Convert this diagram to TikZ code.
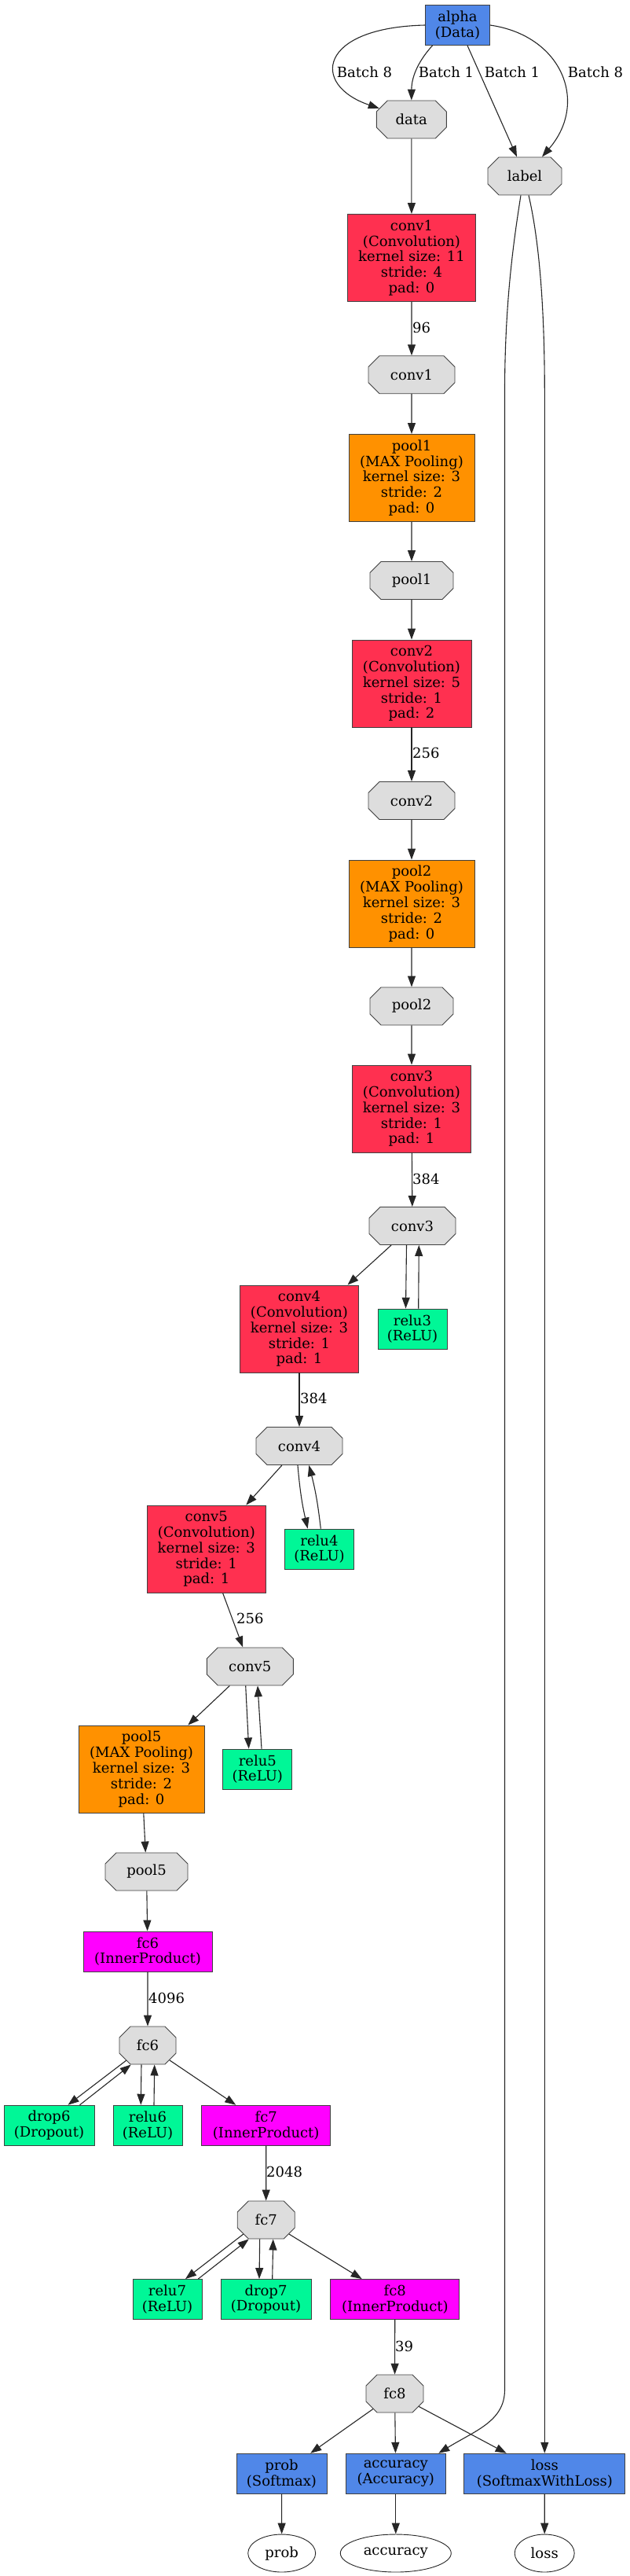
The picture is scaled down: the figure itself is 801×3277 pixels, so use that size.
\documentclass[tikz,border=0pt]{standalone}
\usepackage{fontspec}
\setmainfont{DejaVu Serif}
\usepackage{tikz}
\usetikzlibrary{shapes.geometric,shapes.misc,arrows.meta}
\definecolor{convred}{HTML}{FF3050}
\definecolor{poolorange}{HTML}{FF9100}
\definecolor{actgreen}{HTML}{00F797}
\definecolor{fcmagenta}{HTML}{FF00FF}
\definecolor{iblue}{HTML}{5087E8}
\definecolor{blobgray}{HTML}{DDDDDD}
\newcommand{\connect}[3][]{
  \draw [flow,#1] (#2) to (#3)
}

\begin{document}
\begin{tikzpicture}[x=1pt,y=-1pt,
  every node/.style={font=\fontsize{18}{19.8}\selectfont},
  flow/.style={-{Triangle[length=14pt,width=10pt]},draw=black!85,line width=1.1pt},
  layer/.style={rectangle,draw=black!75,line width=0.9pt,align=center,
    inner sep=0pt,minimum height=51pt},
  conv/.style={layer,fill=convred,minimum width=151pt,minimum height=111pt},
  pool/.style={layer,fill=poolorange,minimum width=160pt,minimum height=111pt},
  act/.style={layer,fill=actgreen,minimum width=88pt},
  fc/.style={layer,fill=fcmagenta,minimum width=164pt},
  io/.style={layer,fill=iblue},
  blob/.style={chamfered rectangle,chamfered rectangle xsep=0pt,
    chamfered rectangle ysep=14pt,draw=black!75,line width=0.9pt,
    fill=blobgray,inner sep=0pt,minimum width=110pt,minimum height=48pt},
  sink/.style={ellipse,draw=black!85,line width=0.9pt,inner sep=0pt,minimum height=48pt},
  count/.style={anchor=west,inner sep=0pt}]
\useasboundingbox (0,0) rectangle (801,3277);

% input
\node[io,minimum width=82pt] (alpha) at (582.5,32) {alpha\\(Data)};
\node[blob,minimum width=89pt] (data) at (523.8,152) {data};
\node[blob,minimum width=94pt] (label) at (668,224) {label};

% conv1 / pool1
\node[conv,minimum width=163pt] (conv1) at (524,328) {conv1\\(Convolution)\\kernel size: 11\\stride: 4\\pad: 0};
\node[blob] (conv1b) at (524,476.7) {conv1};
\node[pool] (pool1) at (524,608) {pool1\\(MAX Pooling)\\kernel size: 3\\stride: 2\\pad: 0};
\node[blob,minimum width=106pt] (pool1b) at (524,738.5) {pool1};

% conv2 / pool2
\node[conv,minimum width=152pt] (conv2) at (524,869.5) {conv2\\(Convolution)\\kernel size: 5\\stride: 1\\pad: 2};
\node[blob] (conv2b) at (524,1018.5) {conv2};
\node[pool] (pool2) at (524,1149.5) {pool2\\(MAX Pooling)\\kernel size: 3\\stride: 2\\pad: 0};
\node[blob,minimum width=106pt] (pool2b) at (524,1280) {pool2};

% conv3 and relu3
\node[conv] (conv3) at (524,1410.5) {conv3\\(Convolution)\\kernel size: 3\\stride: 1\\pad: 1};
\node[blob] (conv3b) at (525,1559.5) {conv3};
\node[conv] (conv4) at (381,1690.5) {conv4\\(Convolution)\\kernel size: 3\\stride: 1\\pad: 1};
\node[act] (relu3) at (525,1690.5) {relu3\\(ReLU)};

% conv4 and relu4
\node[blob] (conv4b) at (381,1839.5) {conv4};
\node[conv] (conv5) at (262.8,1970.5) {conv5\\(Convolution)\\kernel size: 3\\stride: 1\\pad: 1};
\node[act] (relu4) at (406.5,1970.5) {relu4\\(ReLU)};

% conv5 and relu5
\node[blob] (conv5b) at (318.3,2120) {conv5};
\node[pool] (pool5) at (180,2250.5) {pool5\\(MAX Pooling)\\kernel size: 3\\stride: 2\\pad: 0};
\node[act] (relu5) at (327.8,2250.5) {relu5\\(ReLU)};
\node[blob,minimum width=105pt] (pool5b) at (186.5,2381) {pool5};

% fc6
\node[fc] (fc6) at (188,2482.5) {fc6\\(InnerProduct)};
\node[blob,minimum width=72pt] (fc6b) at (188,2602) {fc6};
\node[act,minimum width=115pt] (drop6) at (62.5,2703.7) {drop6\\(Dropout)};
\node[act] (relu6) at (188,2703.7) {relu6\\(ReLU)};
\node[fc] (fc7) at (338.7,2703.7) {fc7\\(InnerProduct)};

% fc7
\node[blob,minimum width=73pt] (fc7b) at (338.7,2824) {fc7};
\node[act] (relu7) at (213,2925) {relu7\\(ReLU)};
\node[act,minimum width=115pt] (drop7) at (338.5,2925) {drop7\\(Dropout)};
\node[fc] (fc8) at (502.8,2925) {fc8\\(InnerProduct)};

% fc8 and outputs
\node[blob,minimum width=73pt] (fc8b) at (502.5,3045) {fc8};
\node[io,minimum width=115pt] (prob) at (358.5,3146.7) {prob\\(Softmax)};
\node[io,minimum width=127pt] (accuracy) at (503.8,3146.7) {accuracy\\(Accuracy)};
\node[io,minimum width=205pt] (loss) at (693.3,3146.7) {loss\\(SoftmaxWithLoss)};
\node[sink,minimum width=86pt] (probo) at (358.7,3248) {prob};
\node[sink,minimum width=141pt] (accuracyo) at (503.8,3248) {accuracy};
\node[sink,minimum width=76pt] (losso) at (693.2,3248) {loss};

% edge labels
\node (b8l) at (464,92) {Batch 8};
\node (b1l) at (568,92) {Batch 1};
\node (b1r) at (652,92) {Batch 1};
\node (b8r) at (758,92) {Batch 8};
\node[count] (n96) at (525,417) {96};
\node[count] (n256a) at (525,958) {256};
\node[count] (n384a) at (525,1500) {384};
\node[count] (n384b) at (382,1779) {384};
\node[count] (n256b) at (301,2059) {256};
\node[count] (n4096) at (189,2542) {4096};
\node[count] (n2048) at (339,2763) {2048};
\node[count] (n39) at (503,2985) {39};

% connect input
\draw[flow] (alpha.west) .. controls (405,35) and (395,108) .. (data.161);
\draw[flow] ([xshift=-32pt]alpha.south) .. controls (535,75) and (524,95) .. (data.north);
\connect{[xshift=12.5pt]alpha.south}{[xshift=-10pt]label.north};
\draw[flow] (alpha.east) .. controls (715,45) and (750,130) .. ([xshift=22pt]label.north);
\connect{data}{conv1};
\draw[flow] ([xshift=-5pt]label.south) .. controls (655,300) and (642.5,380) .. (642.5,500)
  -- (642.5,3040) .. controls (642.5,3080) and (605,3092) .. ([xshift=54.5pt]accuracy.north);
\draw[flow] ([xshift=5pt]label.south) .. controls (685,300) and (693.3,380) .. (693.3,500)
  -- (loss.north);

% connect main column
\connect{conv1}{conv1b};
\connect{conv1b}{pool1};
\connect{pool1}{pool1b};
\connect{pool1b}{conv2};
\connect{conv2}{conv2b};
\connect{conv2b}{pool2};
\connect{pool2}{pool2b};
\connect{pool2b}{conv3};
\connect{conv3}{conv3b};

% connect conv3
\connect{conv3b}{conv4};
\connect{[xshift=-7.5pt]conv3b.south}{[xshift=-8.5pt]relu3.north};
\connect{[xshift=7.7pt]relu3.north}{[xshift=8.3pt]conv3b.south};
\connect{conv4}{conv4b};

% connect conv4
\connect{conv4b}{conv5};
\connect[bend right=4]{[xshift=-2pt]conv4b.south}{[xshift=-14.8pt]relu4.north};
\connect[bend right=4]{[xshift=1.8pt]relu4.north}{[xshift=12.3pt]conv4b.south};
\connect{conv5}{conv5b};

% connect conv5
\connect{conv5b}{pool5};
\connect{[xshift=-5.6pt]conv5b.south}{[xshift=-11.1pt]relu5.north};
\connect{[xshift=5.2pt]relu5.north}{[xshift=9.7pt]conv5b.south};
\connect{pool5}{pool5b};
\connect{pool5b}{fc6};
\connect{fc6}{fc6b};

% connect fc6
\connect{fc6b.215}{[xshift=24pt]drop6.north};
\connect{[xshift=39pt]drop6.north}{fc6b.229};
\connect{[xshift=-8pt]fc6b.south}{[xshift=-8.7pt]relu6.north};
\connect{[xshift=8pt]relu6.north}{[xshift=8.7pt]fc6b.south};
\connect{fc6b}{fc7};
\connect{fc7}{fc7b};

% connect fc7
\connect{fc7b.212}{[xshift=23pt]relu7.north};
\connect{[xshift=39.3pt]relu7.north}{fc7b.228};
\connect{[xshift=-8pt]fc7b.south}{[xshift=-8.5pt]drop7.north};
\connect{[xshift=8.2pt]drop7.north}{[xshift=9pt]fc7b.south};
\connect{fc7b}{fc8};
\connect{fc8}{fc8b};

% connect fc8
\connect{fc8b}{prob};
\connect{fc8b}{accuracy};
\connect{fc8b}{loss};
\connect{prob}{probo};
\connect{accuracy}{accuracyo};
\connect{loss}{losso};

\end{tikzpicture}
\end{document}
